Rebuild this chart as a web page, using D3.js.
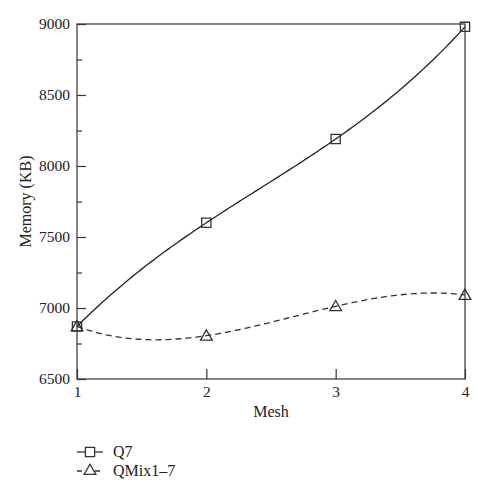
<!DOCTYPE html>
<html>
<head>
<meta charset="utf-8">
<script src="https://cdn.jsdelivr.net/npm/d3@7"></script>
<style>
  html, body { margin: 0; padding: 0; background: #fff; }
  svg { display: block; }
  text { font-family: "Liberation Serif", "DejaVu Serif", serif; fill: #222; }
</style>
</head>
<body>
<svg id="chart" width="488" height="500"></svg>
<script>
const meshes = [1, 2, 3, 4];
const q7 = [6870, 7600, 8190, 8980];
const qmix = [6870, 6805, 7012, 7092];
const seriesNames = ["Q7", "QMix1\u20137"];
const yMajorTicks = [6500, 7000, 7500, 8000, 8500, 9000];
const yMinorTicks = [6750, 7250, 7750, 8250, 8750];

const svg = d3.select("#chart");
const m = { left: 77, right: 465, top: 24, bottom: 379 };
const x = d3.scaleLinear().domain([1, 4]).range([m.left, m.right]);
const y = d3.scaleLinear().domain([6500, 9000]).range([m.bottom, m.top]);
const stroke = "#333";
const FONT = "Liberation Serif, DejaVu Serif, serif";

// frame
svg.append("rect")
  .attr("x", m.left).attr("y", m.top)
  .attr("width", m.right - m.left).attr("height", m.bottom - m.top)
  .attr("fill", "none").attr("stroke", stroke).attr("stroke-width", 1.2);

// y axis
const yAxis = svg.append("g").attr("transform", `translate(${m.left},0)`)
  .call(d3.axisLeft(y).tickValues(yMajorTicks).tickSize(-9).tickPadding(7).tickFormat(d3.format("d")));
yAxis.select(".domain").remove();
yAxis.selectAll("line").attr("stroke", stroke).attr("stroke-width", 1.2);
yAxis.selectAll("text").attr("font-size", 15.5).attr("fill", "#222").attr("font-family", FONT);

const yMinor = svg.append("g").attr("transform", `translate(${m.left},0)`)
  .call(d3.axisLeft(y).tickValues(yMinorTicks).tickSize(-5).tickFormat(""));
yMinor.select(".domain").remove();
yMinor.selectAll("line").attr("stroke", stroke).attr("stroke-width", 1.2);

// x axis
const xAxis = svg.append("g").attr("transform", `translate(0,${m.bottom})`)
  .call(d3.axisBottom(x).tickValues(meshes).tickSize(-10).tickPadding(7).tickFormat(d3.format("d")));
xAxis.select(".domain").remove();
xAxis.selectAll("line").attr("stroke", stroke).attr("stroke-width", 1.2);
xAxis.selectAll("text").attr("font-size", 15.5).attr("fill", "#222").attr("font-family", FONT);

// axis titles
svg.append("text")
  .attr("x", (m.left + m.right) / 2).attr("y", 417)
  .attr("text-anchor", "middle").attr("font-size", 16).text("Mesh");
svg.append("text")
  .attr("transform", `translate(31,${(m.top + m.bottom) / 2}) rotate(-90)`)
  .attr("text-anchor", "middle").attr("font-size", 16).text("Memory (KB)");

// smooth curve through the data points (cubic polynomial interpolation)
function polyCurve(xs, ys) {
  const pts = [];
  const lo = xs[0], hi = xs[xs.length - 1];
  const n = 120;
  for (let k = 0; k <= n; k++) {
    const t = lo + (hi - lo) * k / n;
    let v = 0;
    for (let i = 0; i < xs.length; i++) {
      let L = 1;
      for (let j = 0; j < xs.length; j++) if (j !== i) L *= (t - xs[j]) / (xs[i] - xs[j]);
      v += ys[i] * L;
    }
    pts.push([t, v]);
  }
  return pts;
}
const line = d3.line().x(d => x(d[0])).y(d => y(d[1]));
svg.append("path").datum(polyCurve(meshes, q7)).attr("d", line)
  .attr("fill", "none").attr("stroke", "#222").attr("stroke-width", 1.3);
svg.append("path").datum(polyCurve(meshes, qmix)).attr("d", line)
  .attr("fill", "none").attr("stroke", "#333").attr("stroke-width", 1.3)
  .attr("stroke-dasharray", "6,4");

const sq = d3.symbol().type(d3.symbolSquare).size(85);
const tri = d3.symbol().type(d3.symbolTriangle).size(60);

svg.append("g").selectAll("path").data(q7).join("path")
  .attr("d", sq)
  .attr("transform", (d, i) => `translate(${x(meshes[i])},${y(d)})`)
  .attr("fill", "none").attr("stroke", "#333").attr("stroke-width", 1.3);
svg.append("g").selectAll("path").data(qmix).join("path")
  .attr("d", tri)
  .attr("transform", (d, i) => `translate(${x(meshes[i])},${y(d) + 1})`)
  .attr("fill", "none").attr("stroke", "#333").attr("stroke-width", 1.3);

// legend
const legendY = [452, 471];
const lg = svg.append("g");
seriesNames.forEach((name, i) => {
  const yy = legendY[i];
  lg.append("line").attr("x1", 77).attr("x2", 103).attr("y1", yy).attr("y2", yy)
    .attr("stroke", "#333").attr("stroke-width", 1.3)
    .attr("stroke-dasharray", i === 1 ? "5,4" : null);
  lg.append("path").attr("d", i === 0 ? sq : tri)
    .attr("transform", `translate(90,${yy})`)
    .attr("fill", "#fff").attr("stroke", "#333").attr("stroke-width", 1.3);
  lg.append("text").attr("x", 113).attr("y", yy + 5).attr("font-size", 16).text(name);
});
</script>
</body>
</html>
